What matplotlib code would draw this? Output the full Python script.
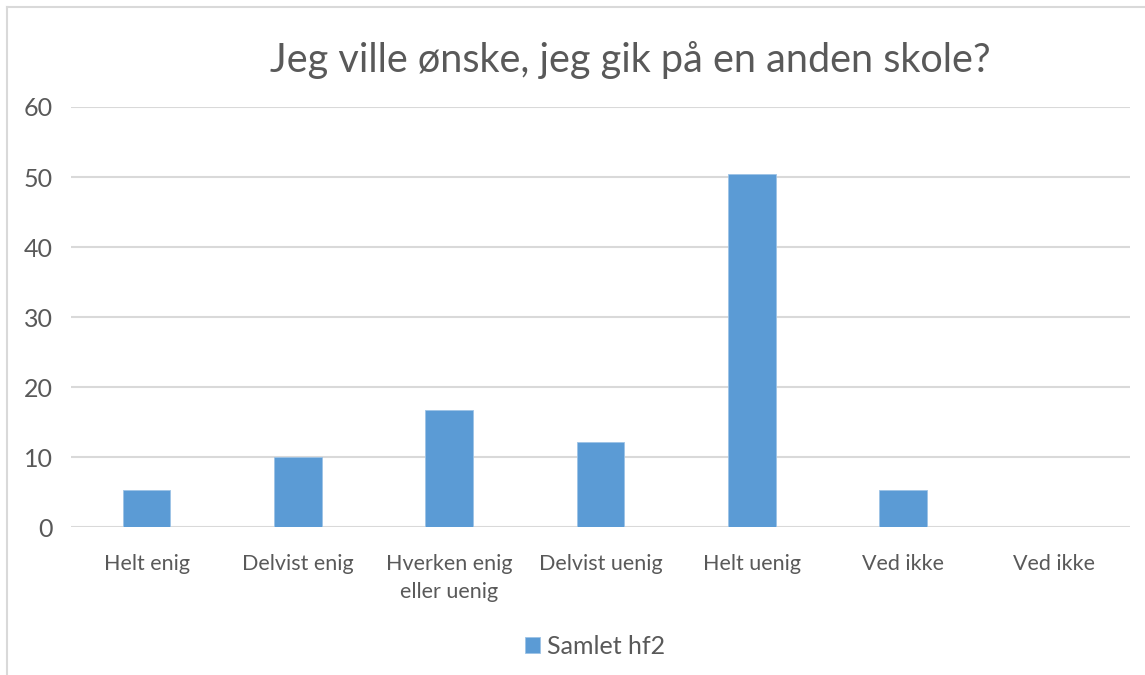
import matplotlib.pyplot as plt
from matplotlib.lines import Line2D

# data
kategorier = ['Helt enig', 'Delvist enig', 'Hverken enig\neller uenig',
              'Delvist uenig', 'Helt uenig', 'Ved ikke', 'Ved ikke']
samlet_hf2 = [5.3, 10.0, 16.8, 12.1, 50.4, 5.3, 0]
y_ticks = [0, 10, 20, 30, 40, 50, 60]

plt.rcParams['font.family'] = ['Lato', 'DejaVu Sans']
tekst = '#595959'
grid = '#d9d9d9'

fig = plt.figure(figsize=(11.45, 6.75), dpi=100)
ax = fig.add_axes([0.062, 0.219, 0.925, 0.6225])

x = range(len(kategorier))
ax.bar(x, samlet_hf2, width=0.315, color='#5b9bd5', edgecolor='#9dc3e6',
       linewidth=0.6, label='Samlet hf2', zorder=3)

ax.set_xlim(-0.5, len(kategorier) - 0.5)
ax.set_ylim(0, 60)
ax.set_yticks(y_ticks)
ax.set_xticks(list(x))
ax.set_xticklabels(kategorier, fontsize=15.5, color=tekst, linespacing=1.55)
ax.tick_params(axis='y', labelsize=18, labelcolor=tekst, length=0, pad=13)
ax.tick_params(axis='x', length=0, pad=19)
ax.yaxis.grid(True, color=grid, linewidth=1.5, zorder=0)
for s in ax.spines.values():
    s.set_visible(False)

# titel
fig.text(630 / 1145, 1 - 60 / 675, 'Jeg ville ønske, jeg gik på en anden skole?',
         ha='center', va='center', fontsize=28.5, color=tekst)

# legend
fig.legend(loc='center', bbox_to_anchor=(595 / 1145, 1 - 646 / 675), frameon=False,
           fontsize=18, labelcolor=tekst, handlelength=0.6, handleheight=0.6,
           handletextpad=0.25)

# kant omkring diagramomraadet
fig.add_artist(Line2D([7 / 1145, 1], [1 - 7 / 675, 1 - 7 / 675], color=grid, linewidth=1.5))
fig.add_artist(Line2D([7 / 1145, 7 / 1145], [0, 1 - 7 / 675], color=grid, linewidth=1.5))

fig.savefig('out.png', dpi=100)
